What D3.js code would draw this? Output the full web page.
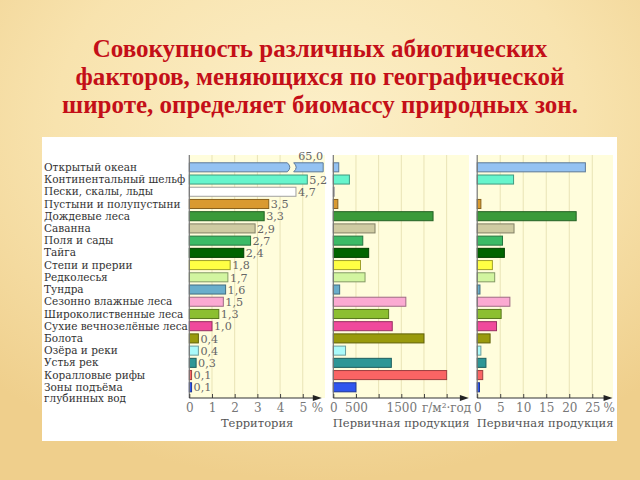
<!DOCTYPE html>
<html><head><meta charset="utf-8">
<script src="https://cdn.jsdelivr.net/npm/d3@7"></script>
<style>
html,body{margin:0;padding:0;}
body{width:640px;height:480px;overflow:hidden;}
.ttl{font-family:"Liberation Serif","Times New Roman",Tinos,"DejaVu Serif";font-weight:bold;}
.srf{font-family:"DejaVu Serif";}
</style>
</head><body>
<svg id="chart" width="640" height="480"></svg>
<script>
const titleLines = ["Совокупность различных абиотических", "факторов, меняющихся по географической", "широте, определяет биомассу природных зон."];
const zones = ["Открытый океан","Континентальный шельф","Пески, скалы, льды","Пустыни и полупустыни","Дождевые леса","Саванна","Поля и сады","Тайга","Степи и прерии","Редколесья","Тундра","Сезонно влажные леса","Широколиственные леса","Сухие вечнозелёные леса","Болота","Озёра и реки","Устья рек","Коралловые рифы","Зоны подъёма\nглубинных вод"];
const territory = [65.0,5.2,4.7,3.5,3.3,2.9,2.7,2.4,1.8,1.7,1.6,1.5,1.3,1.0,0.4,0.4,0.3,0.1,0.1];
const territoryLabels = ["65,0","5,2","4,7","3,5","3,3","2,9","2,7","2,4","1,8","1,7","1,6","1,5","1,3","1,0","0,4","0,4","0,3","0,1","0,1"];
const production = [120,355,15,100,2200,920,650,780,600,700,140,1600,1220,1300,2000,270,1280,2500,500];
const productionShare = [23.5,7.9,0,0.8,21.5,8.0,5.5,5.9,3.3,3.8,0.6,7.1,5.2,4.2,2.8,0.8,1.9,1.2,0.5];
const colors = ["#94c2f2","#66f5cc","#ffffff","#d99a30","#3a9a3a","#cfcba2","#3cba66","#006400","#ffff44","#d2f5a0","#6aaecb","#fbaad2","#8cbf30","#f04a9c","#999a0c","#aafafa","#2e9696","#fa6464","#2f55ee"];
const territoryTicks = [0,1,2,3,4,5];
const productionTicks = [0,500,1000,1500,2000,2500];
const productionTickLabels = ["0","500","","1500","",""];
const shareTicks = [0,5,10,15,20,25];
const axisTitles = ["Территория","Первичная продукция","Первичная продукция"];
const unitLabels = ["%","г/м²·год","%"];

const svg = d3.select("#chart");
const defs = svg.append("defs");
const rg = defs.append("radialGradient").attr("id","bg").attr("cx","50%").attr("cy","25%").attr("r","75%");
rg.append("stop").attr("offset","0%").attr("stop-color","#fcefc8");
rg.append("stop").attr("offset","55%").attr("stop-color","#f8e3ae");
rg.append("stop").attr("offset","100%").attr("stop-color","#efcf8c");
svg.append("rect").attr("width",640).attr("height",480).attr("fill","url(#bg)");

const tt = svg.append("g").selectAll("text").data(titleLines).join("text")
  .attr("class","ttl")
  .attr("x",320).attr("y",(d,i)=>57+i*28)
  .attr("text-anchor","middle")
  .attr("font-size",24)
  .attr("fill","#c40f18").text(d=>d);
const w0 = tt.nodes()[0].getComputedTextLength();
if (w0 > 0) tt.attr("font-size", 24*455/w0);

svg.append("rect").attr("x",42).attr("y",137).attr("width",575).attr("height",304).attr("fill","#ffffff");

const plotTop = 155, axisY = 398;
const y = d3.scaleBand().domain(d3.range(zones.length)).range([161.2, 393.4]).paddingInner(0.26).paddingOuter(0.13);

const lab = svg.append("g").attr("class","srf").attr("font-size",10.5).attr("fill","#333");
zones.forEach((z,i)=>{
  const parts = z.split("\n");
  const t = lab.append("text").attr("x",44).attr("y",y(i)+y.bandwidth()/2+3.6);
  parts.forEach((s,k)=>t.append("tspan").attr("x",44).attr("dy",k?11.6:0).text(s));
});

const panels = [
  {x0:189.3, x1:325, dom:[0,5.98], vals:territory, ticks:territoryTicks, tlabels:territoryTicks.map(String), unitAt:5.65, axisEnd:5.84, barEnd:5.9},
  {x0:333.3, x1:469, dom:[0,2993], vals:production, ticks:productionTicks, tlabels:productionTickLabels, unitAt:2500, axisEnd:2990},
  {x0:477.2, x1:613, dom:[0,29.5], vals:productionShare, ticks:shareTicks, tlabels:shareTicks.map(String), unitAt:28.7, axisEnd:29.4}
];

panels.forEach((p,pi)=>{
  const x = d3.scaleLinear().domain(p.dom).range([p.x0, p.x1]);
  const g = svg.append("g");
  g.append("rect").attr("x",p.x0).attr("y",plotTop).attr("width",p.x1-p.x0).attr("height",axisY-plotTop).attr("fill","#fffddc");
  g.selectAll("line.grid").data(p.ticks.slice(1)).join("line").attr("class","grid")
    .attr("x1",d=>x(d)).attr("x2",d=>x(d)).attr("y1",plotTop).attr("y2",axisY)
    .attr("stroke","#e9e3b6").attr("stroke-width",1);
  p.vals.forEach((v,i)=>{
    const y0 = y(i), h = y.bandwidth();
    const fill = colors[i], stroke = d3.color(colors[i]).darker(1.3).formatHex();
    if (v > p.dom[1]) {
      const b1 = x(4.32), b2 = x(4.6), end = x(p.barEnd);
      g.append("path").attr("d",`M${x(0)},${y0}H${b1}Q${b1+5},${y0+h/2} ${b1},${y0+h}H${x(0)}Z`)
        .attr("fill",fill).attr("stroke",stroke).attr("stroke-width",1);
      g.append("path").attr("d",`M${b2},${y0}H${end}V${y0+h}H${b2}Q${b2+5},${y0+h/2} ${b2},${y0}Z`)
        .attr("fill",fill).attr("stroke",stroke).attr("stroke-width",1);
    } else if (v > 0) {
      g.append("rect").attr("x",x(0)).attr("y",y0).attr("width",Math.max(1,x(v)-x(0))).attr("height",h)
        .attr("fill",fill).attr("stroke",stroke).attr("stroke-width",1);
    }
  });
  g.append("line").attr("x1",x(0)).attr("x2",x(0)).attr("y1",plotTop).attr("y2",axisY).attr("stroke","#777").attr("stroke-width",1.2);
  const ax = d3.axisBottom(x).tickValues(p.ticks).tickSizeInner(-4).tickSizeOuter(0).tickPadding(5).tickFormat((d,k)=>p.tlabels[k]);
  const ag = g.append("g").attr("transform",`translate(0,${axisY})`).call(ax);
  ag.select(".domain").remove();
  ag.selectAll(".tick line").attr("stroke","#444");
  ag.selectAll(".tick text").attr("class","srf").attr("font-size",12).attr("fill","#777");
  g.append("line").attr("x1",x(0)).attr("x2",x(p.axisEnd)-5).attr("y1",axisY).attr("y2",axisY).attr("stroke","#333").attr("stroke-width",1.2);
  g.append("path").attr("d",`M${x(p.axisEnd)},${axisY}l-9,-3v6Z`).attr("fill","#222");
  g.append("text").attr("class","srf").attr("x",x(p.unitAt)).attr("y",axisY+5).attr("dy","0.71em").attr("text-anchor","middle")
    .attr("font-size",12).attr("fill","#777").text(unitLabels[pi]);
  g.append("text").attr("class","srf").attr("x",(p.x0+p.x1)/2).attr("y",427).attr("text-anchor","middle")
    .attr("font-size",11.5).attr("fill","#555").text(axisTitles[pi]);
  if (pi===0) {
    g.selectAll("text.val").data(p.vals).join("text").attr("class","srf")
      .attr("x",(d)=> d > p.dom[1] ? x(p.barEnd) : x(d)+2)
      .attr("y",(d,i)=> d > p.dom[1] ? y(i)-2.5 : y(i)+y.bandwidth()/2+4.2)
      .attr("text-anchor",d=> d > p.dom[1] ? "end" : "start")
      .attr("font-size",11.2).attr("fill","#666")
      .text((d,i)=>territoryLabels[i]);
  }
});
</script>
</body></html>
